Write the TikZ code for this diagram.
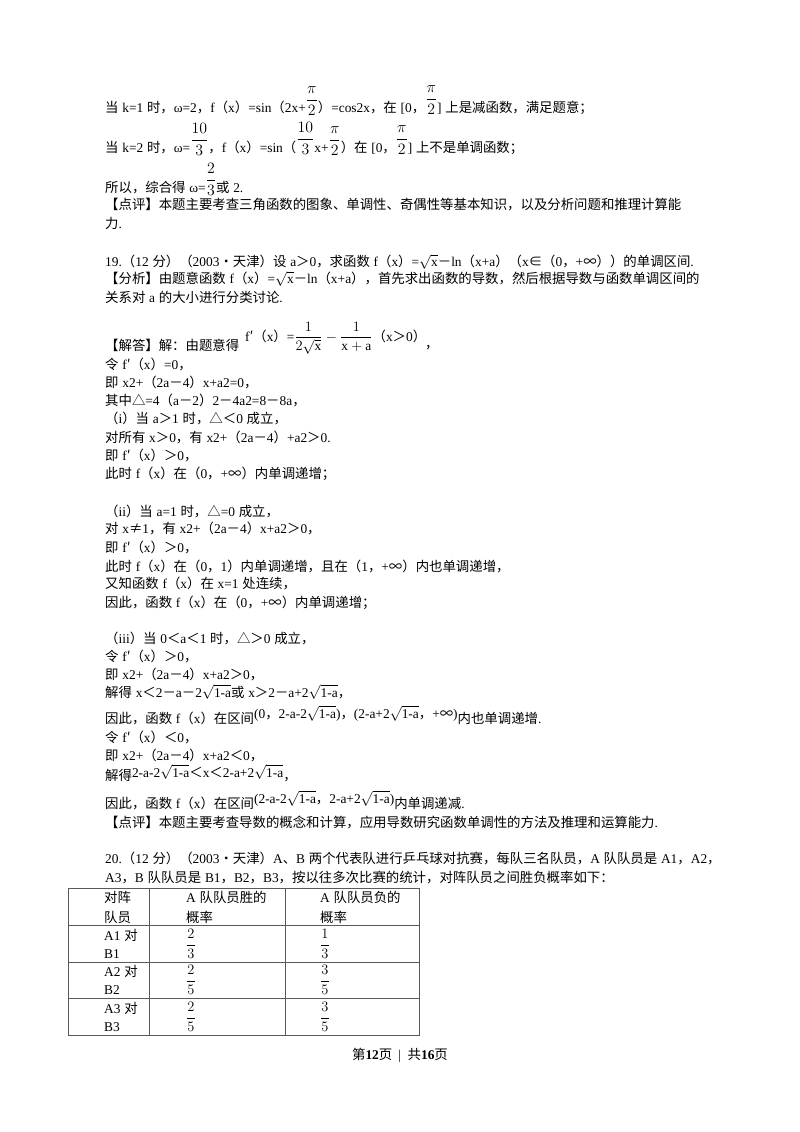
\documentclass[tikz,border=0pt]{standalone}
\usepackage{amsmath}
\usepackage{graphicx}
\usepackage{fontspec}
\setmainfont{Liberation Serif}
\newfontfamily\cjk{Noto Sans CJK SC}
\XeTeXinterchartokenstate=1
\newXeTeXintercharclass\cjkclass
\newXeTeXintercharclass\cjkp
\newXeTeXintercharclass\latp
\newcount\cc
\def\setcls#1#2#3{\cc=#1 \loop\XeTeXcharclass\cc=#3\advance\cc by1 \ifnum\cc<#2 \repeat}
\setcls{"4E00}{"A000}\cjkclass
\setcls{"3000}{"3040}\cjkp
\setcls{"FF00}{"FFF0}\cjkp
\setcls{"2200}{"2300}\cjkp
\setcls{"25A0}{"2600}\cjkp
\setcls{"2032}{"2033}\cjkp
\setcls{"2022}{"2023}\cjkp
\XeTeXcharclass`.=\latp
\XeTeXinterchartoks 0 \cjkclass = {\hskip0.28em\cjk}
\XeTeXinterchartoks 0 \cjkp = {\cjk}
\XeTeXinterchartoks 4095 \cjkclass = {\cjk}
\XeTeXinterchartoks 4095 \cjkp = {\cjk}
\XeTeXinterchartoks \cjkclass 0 = {\rmfamily\hskip0.28em}
\XeTeXinterchartoks \cjkp 0 = {\rmfamily}
\XeTeXinterchartoks 4095 0 = {\rmfamily}
\XeTeXinterchartoks \cjkclass \latp = {\rmfamily}
\XeTeXinterchartoks \cjkp \latp = {\rmfamily}
\XeTeXinterchartoks 4095 \latp = {\rmfamily}
\XeTeXinterchartoks \latp \cjkclass = {\cjk}
\XeTeXinterchartoks \latp \cjkp = {\cjk}
\newcommand\fr[2]{\raisebox{1.2ex}{\scalebox{1.1}{$\dfrac{#1}{#2}$}}}
\newcommand\rt[1]{$\sqrt{\mathrm{#1}}$}
\newcommand\rta{$\sqrt{\mathrm{1\text{-}a}}$}
\begin{document}
\begin{tikzpicture}[x=1pt,y=-1pt,font=\fontsize{13.4}{19}\selectfont,
  ln/.style={anchor=base west,inner sep=0pt},
  cell/.style={anchor=base west,inner sep=0pt}]
\useasboundingbox[fill=white] (0,0) rectangle (800,1132);
\node[ln] (a1) at (105,112) {当k=1时，ω=2，f（x）=sin（2x+\fr{\pi}{2}）=cos2x，在[0，\fr{\pi}{2}]上是减函数，满足题意；};
\node[ln] (a2) at (105,152) {当k=2时，ω=\fr{10}{3}，f（x）=sin（\fr{10}{3}x+\fr{\pi}{2}）在[0，\fr{\pi}{2}]上不是单调函数；};
\node[ln] (a3) at (105,192) {所以，综合得ω=\fr{2}{3}或2.};
\node[ln] (a4) at (105,209) {【点评】本题主要考查三角函数的图象、单调性、奇偶性等基本知识，以及分析问题和推理计算能};
\node[ln] (a5) at (105,228) {力.};
\node[ln] (b1) at (105,266) {19.（12分）（2003•天津）设a＞0，求函数f（x）=\rt{x}－ln（x+a）（x∈（0，+∞））的单调区间.};
\node[ln] (b2) at (105,283) {【分析】由题意函数f（x）=\rt{x}－ln（x+a），首先求出函数的导数，然后根据导数与函数单调区间的};
\node[ln] (b3) at (105,302) {关系对a的大小进行分类讨论.};
\node[ln] (b4) at (105,350) {【解答】解：由题意得};
\node[ln] (b4f) at (245,341) {f′（x）=$\dfrac{1}{2\sqrt{\mathrm{x}}}-\dfrac{1}{\mathrm{x+a}}$（x＞0）};
\node[ln] (b4c) at (425,348) {，};
\node[ln] (c1) at (105,369) {令f′（x）=0，};
\node[ln] (c2) at (105,387) {即x2+（2a－4）x+a2=0，};
\node[ln] (c3) at (105,405) {其中△=4（a－2）2－4a2=8－8a，};
\node[ln] (c4) at (105,423) {（i）当a＞1时，△＜0成立，};
\node[ln] (c5) at (105,442) {对所有x＞0，有x2+（2a－4）+a2＞0.};
\node[ln] (c6) at (105,460) {即f′（x）＞0，};
\node[ln] (c7) at (105,478) {此时f（x）在（0，+∞）内单调递增；};
\node[ln] (d1) at (105,516) {（ii）当a=1时，△=0成立，};
\node[ln] (d2) at (105,533) {对x≠1，有x2+（2a－4）x+a2＞0，};
\node[ln] (d3) at (105,552) {即f′（x）＞0，};
\node[ln] (d4) at (105,571) {此时f（x）在（0，1）内单调递增，且在（1，+∞）内也单调递增，};
\node[ln] (d5) at (105,588) {又知函数f（x）在x=1处连续，};
\node[ln] (d6) at (105,607) {因此，函数f（x）在（0，+∞）内单调递增；};
\node[ln] (e1) at (105,643) {（iii）当0＜a＜1时，△＞0成立，};
\node[ln] (e2) at (105,661) {令f′（x）＞0，};
\node[ln] (e3) at (105,679) {即x2+（2a－4）x+a2＞0，};
\node[ln] (e4) at (105,697) {解得x＜2－a－2\rta 或x＞2－a+2\rta，};
\node[ln] (e5) at (105,723) {因此，函数f（x）在区间\raisebox{0.6ex}{(0，2-a-2\rta)，(2-a+2\rta，+∞)}内也单调递增.};
\node[ln] (e6) at (105,742) {令f′（x）＜0，};
\node[ln] (e7) at (105,760) {即x2+（2a－4）x+a2＜0，};
\node[ln] (e8) at (105,780) {解得\raisebox{0.4ex}{2-a-2\rta＜x＜2-a+2\rta}，};
\node[ln] (e9) at (105,808) {因此，函数f（x）在区间\raisebox{0.6ex}{(2-a-2\rta，2-a+2\rta)}内单调递减.};
\node[ln] (e10) at (105,827) {【点评】本题主要考查导数的概念和计算，应用导数研究函数单调性的方法及推理和运算能力.};
\node[ln] (f1) at (105,863) {20.（12分）（2003•天津）A、B两个代表队进行乒乓球对抗赛，每队三名队员，A队队员是A1，A2，};
\node[ln] (f2) at (105,882) {A3，B队队员是B1，B2，B3，按以往多次比赛的统计，对阵队员之间胜负概率如下：};
% table
\draw[gray!70!black,line width=0.8pt] (68,888) rectangle (419,1035);
\draw[gray!70!black,line width=0.8pt] (149,888) -- (149,1035) (285,888) -- (285,1035)
  (68,925) -- (419,925) (68,962) -- (419,962) (68,998) -- (419,998);
\node[cell] (t1) at (104,902) {对阵};
\node[cell] (t2) at (104,922) {队员};
\node[cell] (t3) at (186,902) {A队队员胜的};
\node[cell] (t4) at (186,922) {概率};
\node[cell] (t5) at (320,902) {A队队员负的};
\node[cell] (t6) at (320,922) {概率};
\node[cell] (r1) at (104,940) {A1对};
\node[cell] (r1b) at (104,958) {B1};
\node[cell] (r2) at (104,976) {A2对};
\node[cell] (r2b) at (104,994) {B2};
\node[cell] (r3) at (104,1013) {A3对};
\node[cell] (r3b) at (104,1031) {B3};
\node (p1) at (191,944) {$\dfrac{2}{3}$};
\node (q1) at (325,944) {$\dfrac{1}{3}$};
\node (p2) at (191,980) {$\dfrac{2}{5}$};
\node (q2) at (325,980) {$\dfrac{3}{5}$};
\node (p3) at (191,1017) {$\dfrac{2}{5}$};
\node (q3) at (325,1017) {$\dfrac{3}{5}$};
\node (ft) at (400,1055) {\cjk 第\textbf{12}页 \ | \ 共\textbf{16}页};
\end{tikzpicture}
\end{document}
